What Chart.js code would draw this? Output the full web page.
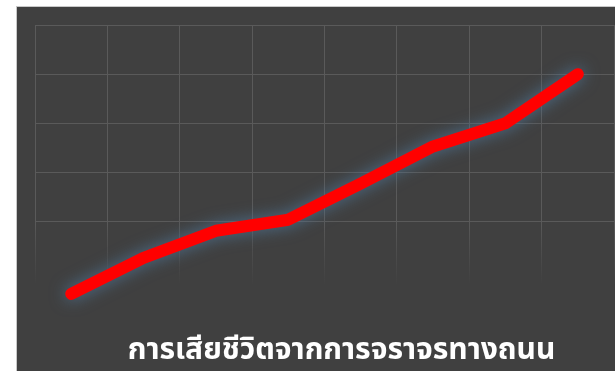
<!DOCTYPE html>
<html>
<head>
<meta charset="utf-8">
<script src="https://cdn.jsdelivr.net/npm/chart.js@4"></script>
<style>
  html, body { margin: 0; padding: 0; background: #fff; overflow: hidden; }
  #panel {
    position: absolute; left: 16px; top: 6px;
    width: 598px; height: 364px;
    background: #404040;
    border-top: 1px solid #c8c8c8;
    border-left: 1px solid #c8c8c8;
  }
  canvas { display: block; }
</style>
</head>
<body>
<div id="panel"><canvas id="lineChart" width="598" height="364"></canvas></div>
<script>
  // values (no axis labels shown)
  const periods = ['1', '2', '3', '4', '5', '6', '7', '8'];
  const deaths = [10.6, 25.3, 36.3, 40.8, 55.5, 70.6, 80, 100];
  const yRange = [0, 120];
  const yStep = 20;
  const titleText = 'การเสียชีวิตจากการจราจรทางถนน';

  const gridColor = 'rgba(90,90,90,1)';

  // vertical grid fades out towards the bottom
  function fadeGrid(context) {
    const chart = context.chart;
    const area = chart.chartArea;
    if (!area) return gridColor;
    const g = chart.ctx.createLinearGradient(0, area.top, 0, area.bottom);
    g.addColorStop(0, gridColor);
    g.addColorStop(0.66, gridColor);
    g.addColorStop(0.88, 'rgba(90,90,90,0)');
    g.addColorStop(1, 'rgba(90,90,90,0)');
    return g;
  }

  const glow = {
    id: 'glow',
    beforeDatasetDraw(chart) {
      const ctx = chart.ctx;
      ctx.save();
      ctx.shadowColor = 'rgba(80,120,155,0.85)';
      ctx.shadowBlur = 16;
    },
    afterDatasetDraw(chart) {
      chart.ctx.restore();
    }
  };

  const titleShift = {
    id: 'titleShift',
    afterLayout(chart) {
      const t = chart.titleBlock;
      if (t) { t.left += 17; t.right += 17; }
    }
  };

  new Chart(document.getElementById('lineChart'), {
    type: 'line',
    data: {
      labels: periods,
      datasets: [{
        label: titleText,
        data: deaths,
        borderColor: '#ff0000',
        backgroundColor: 'transparent',
        borderWidth: 12,
        borderCapStyle: 'round',
        borderJoinStyle: 'round',
        pointRadius: 0,
        tension: 0
      }]
    },
    options: {
      responsive: false,
      animation: false,
      layout: { padding: { left: 18, top: 18, right: 1, bottom: 0 } },
      scales: {
        x: {
          offset: true,
          grid: { offset: true, color: fadeGrid, lineWidth: 1, drawTicks: false },
          border: { display: false },
          ticks: { display: false }
        },
        y: {
          min: yRange[0],
          max: yRange[1],
          ticks: { display: false, stepSize: yStep },
          grid: {
            drawTicks: false,
            lineWidth: 1,
            color: (c) => (c.tick && c.tick.value <= 20 ? 'rgba(0,0,0,0)' : gridColor)
          },
          border: { display: false }
        }
      },
      plugins: {
        legend: { display: false },
        tooltip: { enabled: false },
        title: {
          display: true,
          text: titleText,
          position: 'bottom',
          color: '#ffffff',
          font: { family: "'Noto Sans Thai', 'Leelawadee UI', Tahoma, 'Noto Sans', sans-serif", size: 30, weight: 'bold' },
          padding: { top: 15, bottom: 0 }
        }
      }
    },
    plugins: [glow, titleShift]
  });
</script>
</body>
</html>
